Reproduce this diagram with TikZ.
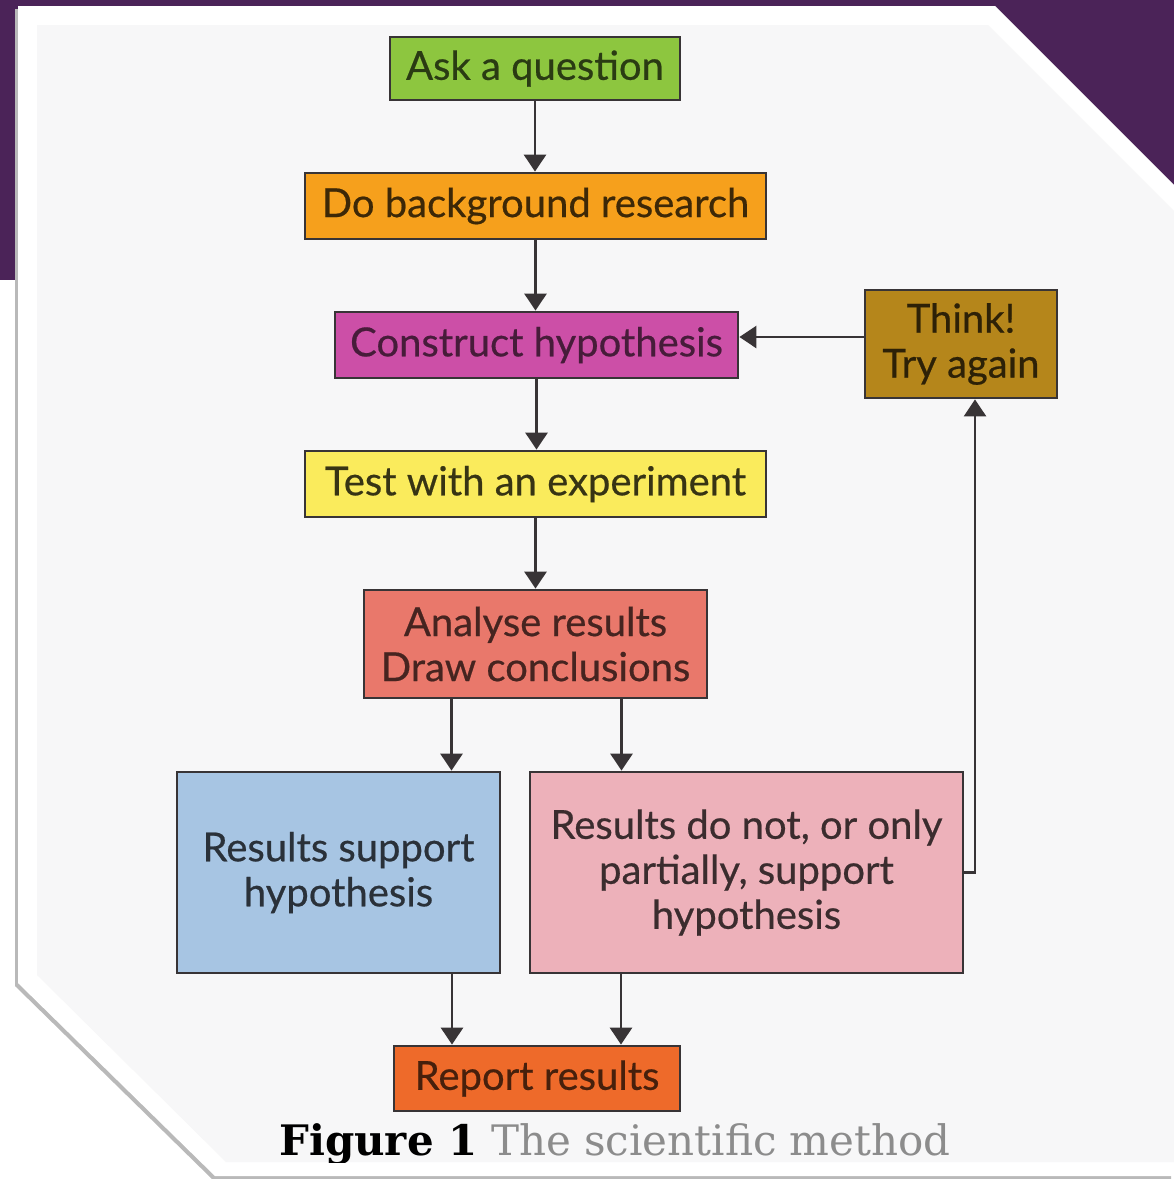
\documentclass[tikz,border=0pt]{standalone}
\usepackage{fontspec}
\setsansfont{Lato}[FakeBold=0.5]
\newfontfamily\capfont{DejaVu Serif}
\usetikzlibrary{positioning,calc,arrows.meta}
\definecolor{slide}{HTML}{4B2358}
\definecolor{card}{HTML}{F7F7F8}
\definecolor{edge}{HTML}{383436}
\definecolor{ask}{HTML}{8DC63F}
\definecolor{research}{HTML}{F6A01C}
\definecolor{construct}{HTML}{CC4FA7}
\definecolor{think}{HTML}{B5861B}
\definecolor{test}{HTML}{FAEB5C}
\definecolor{analyse}{HTML}{E9786B}
\definecolor{support}{HTML}{A7C5E3}
\definecolor{notsup}{HTML}{EDB1BA}
\definecolor{report}{HTML}{EE6A2A}
\definecolor{capgray}{HTML}{8C8C8C}

\begin{document}
\begin{tikzpicture}[x=1pt,y=-1pt,
  every node/.style={align=center,font=\sffamily\fontsize{40}{45}\selectfont},
  box/.style={draw=edge,line width=2.8pt,inner sep=0pt},
  flow/.style={draw=edge,line width=2.8pt,-{Triangle[length=17pt,width=22pt]}}]
\useasboundingbox (0,0) rectangle (1174,1179);
% slide background and card
\fill[slide] (0,0) rectangle (1174,280);
\fill[gray!55] (15,9) -- (992,9) -- (1171,188) -- (1171,1179) -- (212,1179) -- (15,986) -- cycle;
\fill[white] (18,6) -- (995,6) -- (1174,185) -- (1174,1176) -- (215,1176) -- (18,983) -- cycle;
\fill[card] (37,25) -- (988,25) -- (1174,211) -- (1174,1162) -- (226,1162) -- (37,975) -- cycle;
% steps
\node[box,fill=ask,text=ask!30!black,minimum width=290,minimum height=63] (ask) at (535,68.5) {Ask a question};
\node[box,fill=research,text=research!25!black,minimum width=461,minimum height=66] (research) at (535.5,206) {Do background research};
\node[box,fill=construct,text=construct!35!black,minimum width=403,minimum height=66] (construct) at (536.5,345) {Construct hypothesis};
\node[box,fill=think,text=think!25!black,minimum width=192,minimum height=108] (think) at (961,344) {Think!\\Try again};
\node[box,fill=test,text=test!22!black,minimum width=461,minimum height=66] (test) at (535.5,484) {Test with an experiment};
\node[box,fill=analyse,text=analyse!30!black,minimum width=343,minimum height=108] (analyse) at (535.5,644) {Analyse results\\Draw conclusions};
\node[box,fill=support,text=support!25!black,minimum width=323,minimum height=201] (support) at (338.5,872.5) {Results support\\hypothesis};
\node[box,fill=notsup,text=notsup!25!black,minimum width=433,minimum height=201] (notsup) at (746.5,872.5) {Results do not, or only\\partially, support\\hypothesis};
\node[box,fill=report,text=report!30!black,minimum width=286,minimum height=65] (report) at (537,1078.5) {Report results};
% connectors
\draw[flow] (ask.south) -- (ask.south |- research.north);
\draw[flow] (research.south) -- (research.south |- construct.north);
\draw[flow] (construct.south) -- (construct.south |- test.north);
\draw[flow] (test.south) -- (test.south |- analyse.north);
\draw[flow] ([yshift=7]think.west) -- ([yshift=7]think.west -| construct.east);
\draw[flow] ([xshift=-84]analyse.south) -- ([xshift=-84]analyse.south |- support.north);
\draw[flow] ([xshift=86]analyse.south) -- ([xshift=86]analyse.south |- notsup.north);
\draw[flow] (notsup.east) -| ([xshift=14]think.south);
\draw[flow] ([xshift=-85]report.north |- support.south) -- ([xshift=-85]report.north);
\draw[flow] ([xshift=84]report.north |- notsup.south) -- ([xshift=84]report.north);
% caption
\begin{scope}
\clip (37,25) -- (988,25) -- (1174,211) -- (1174,1162) -- (226,1162) -- (37,975) -- cycle;
\node[anchor=base,font=\capfont\fontsize{42}{48}\selectfont] (caption) at (615,1155) {\textbf{Figure 1} \textcolor{capgray}{The scientific method}};
\end{scope}
\end{tikzpicture}
\end{document}
